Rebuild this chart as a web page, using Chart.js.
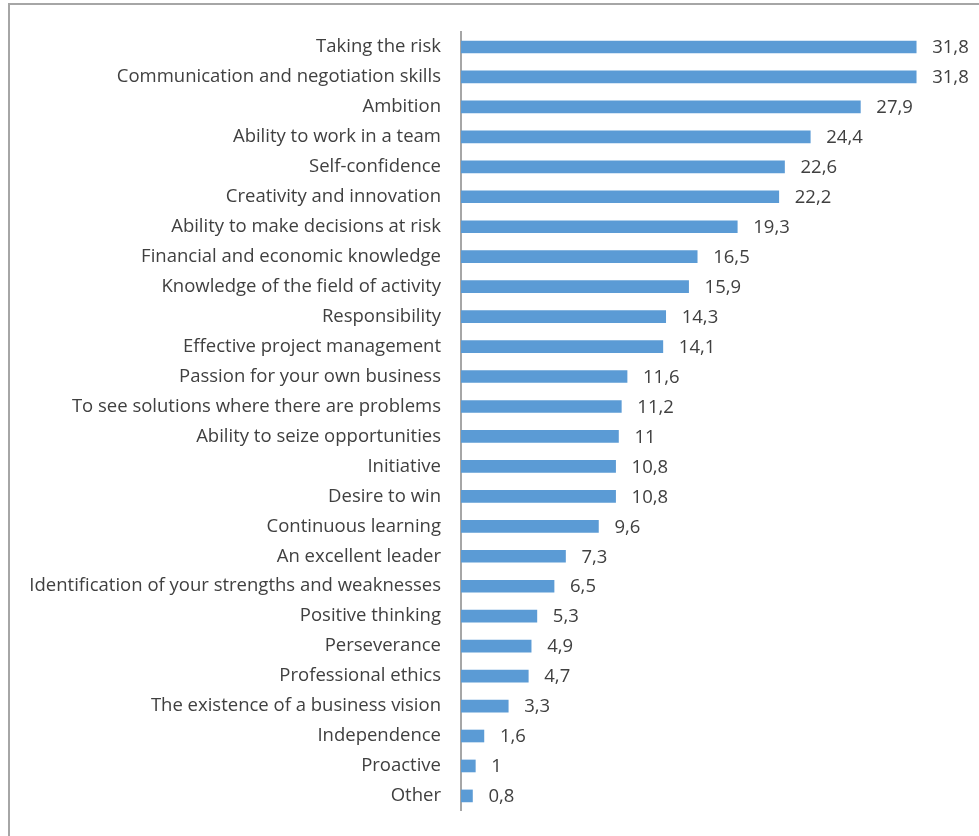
<!DOCTYPE html>
<html>
<head>
<meta charset="utf-8">
<script src="https://cdn.jsdelivr.net/npm/chart.js@4"></script>
<style>
  html, body { margin: 0; padding: 0; background: #fff; overflow: hidden; }
  #wrap { position: relative; width: 979px; height: 836px; overflow: hidden; }
  #frame {
    position: absolute; left: 8px; top: 3px; width: 1000px; height: 900px;
    border: 2px solid #a6a6a6; box-sizing: border-box;
  }
  canvas { position: absolute; left: 0; top: 0; }
</style>
</head>
<body>
<div id="wrap">
  <div id="frame"></div>
  <canvas id="skillsChart" width="979" height="842"></canvas>
</div>
<script>
// Entrepreneurial skills, share of respondents (%)
const skills = [
    'Taking the risk',
    'Communication and negotiation skills',
    'Ambition',
    'Ability to work in a team',
    'Self-confidence',
    'Creativity and innovation',
    'Ability to make decisions at risk',
    'Financial and economic knowledge',
    'Knowledge of the field of activity',
    'Responsibility',
    'Effective project management',
    'Passion for your own business',
    'To see solutions where there are problems',
    'Ability to seize opportunities',
    'Initiative',
    'Desire to win',
    'Continuous learning',
    'An excellent leader',
    'Identification of your strengths and weaknesses',
    'Positive thinking',
    'Perseverance',
    'Professional ethics',
    'The existence of a business vision',
    'Independence',
    'Proactive',
    'Other'
];
const shares = [31.8, 31.8, 27.9, 24.4, 22.6, 22.2, 19.3, 16.5, 15.9, 14.3, 14.1, 11.6, 11.2, 11,
    10.8, 10.8, 9.6, 7.3, 6.5, 5.3, 4.9, 4.7, 3.3, 1.6, 1, 0.8];

const fontFamily = '"Open Sans", "Noto Sans", sans-serif';
const fontSize = 18.5;
const textColor = '#404040';

// write the value next to the end of each bar, decimal comma
const valueLabels = {
    id: 'valueLabels',
    afterDatasetsDraw(chart) {
        const ctx = chart.ctx;
        const meta = chart.getDatasetMeta(0);
        ctx.save();
        ctx.font = fontSize + 'px ' + fontFamily;
        ctx.fillStyle = textColor;
        ctx.textAlign = 'left';
        ctx.textBaseline = 'middle';
        meta.data.forEach((bar, i) => {
            const txt = String(shares[i]).replace('.', ',');
            ctx.fillText(txt, bar.x + 16, bar.y + 1);
        });
        ctx.restore();
    }
};

const ctx = document.getElementById('skillsChart').getContext('2d');
const skillsChart = new Chart(ctx, {
    type: 'bar',
    data: {
        labels: skills,
        datasets: [{
            data: shares,
            backgroundColor: '#5b9bd5',
            barThickness: 12
        }]
    },
    options: {
        indexAxis: 'y',
        responsive: false,
        animation: false,
        layout: { padding: { top: 32, bottom: 24, right: 17, left: 0 } },
        plugins: {
            legend: { display: false },
            tooltip: { enabled: false }
        },
        scales: {
            x: {
                display: false,
                min: 0,
                max: 35
            },
            y: {
                afterFit(scale) { scale.width = 461; },
                grid: { display: false, drawTicks: false },
                border: { display: true, color: '#a6a6a6', width: 2 },
                ticks: {
                    padding: 20,
                    color: textColor,
                    font: { size: fontSize, family: fontFamily }
                }
            }
        }
    },
    plugins: [valueLabels]
});
</script>
</body>
</html>
